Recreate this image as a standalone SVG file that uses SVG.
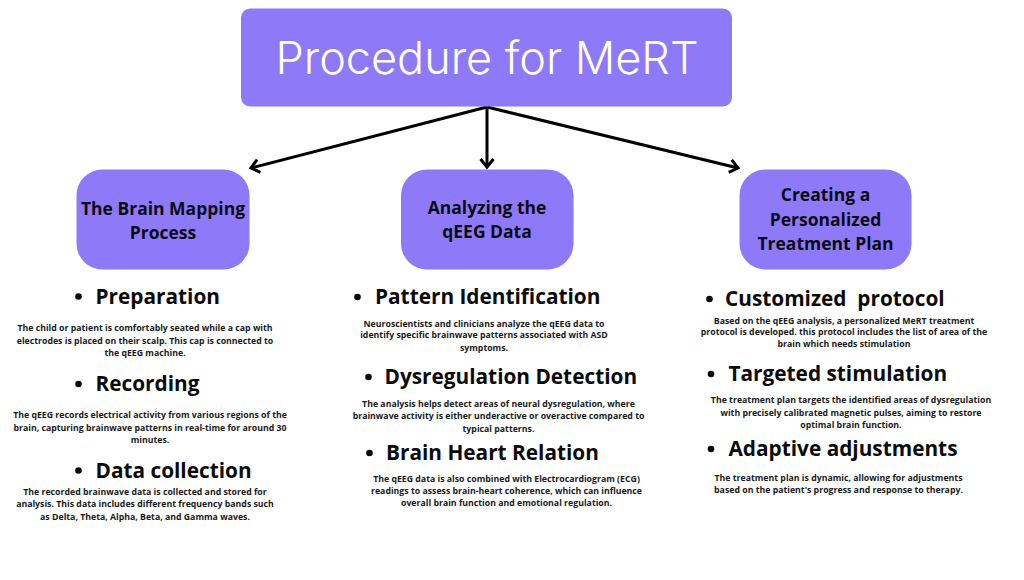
<svg xmlns="http://www.w3.org/2000/svg" width="1024" height="580" viewBox="0 0 1024 580">
<style>
.box{fill:#8e79f8;}
.title{font-family:Inter,"Open Sans",sans-serif;font-weight:300;font-size:45px;fill:#ffffff;text-anchor:middle;}
.nl{font-family:"Open Sans","Liberation Sans",sans-serif;font-weight:700;font-size:17.5px;fill:#0a0a14;text-anchor:middle;}
.hd{font-family:"Open Sans","Liberation Sans",sans-serif;font-weight:700;font-size:20.8px;fill:#0a0a0a;}
.bd{font-family:"Open Sans","Liberation Sans",sans-serif;font-weight:700;font-size:8.75px;fill:#1a1a1a;text-anchor:middle;}
.bl{fill:#0a0a0a;}
.conn{stroke:#000;stroke-width:3;fill:none;}
</style>
<defs>
<marker id="chev" markerUnits="userSpaceOnUse" markerWidth="20" markerHeight="20" refX="0" refY="0" viewBox="-12 -10 14 20" orient="auto">
<path d="M-8,-6.5 L0,0 L-8,6.5" stroke="#000" stroke-width="3" fill="none" stroke-linejoin="miter"/>
</marker>
</defs>
<rect width="1024" height="580" fill="#ffffff"/>

<g id="connectors">
<line class="conn" x1="487" y1="107" x2="251" y2="168" marker-end="url(#chev)"/>
<line class="conn" x1="487" y1="107" x2="487" y2="167" marker-end="url(#chev)"/>
<line class="conn" x1="487" y1="107" x2="738" y2="168" marker-end="url(#chev)"/>
</g>

<g id="title">
<rect class="box" x="241" y="8.5" width="491" height="98" rx="9"/>
<text class="title" x="487" y="73.5">Procedure for MeRT</text>
</g>

<g id="node-brain-mapping">
<rect class="box" x="76.5" y="169.5" width="173" height="100" rx="26"/>
<text class="nl" x="163" y="215">The Brain Mapping</text>
<text class="nl" x="163" y="239">Process</text>
</g>

<g id="node-analyzing">
<rect class="box" x="401" y="169.5" width="172.5" height="100" rx="26"/>
<text class="nl" x="487" y="214">Analyzing the</text>
<text class="nl" x="487" y="238">qEEG Data</text>
</g>

<g id="node-treatment-plan">
<rect class="box" x="739.5" y="169.5" width="172" height="100" rx="26"/>
<text class="nl" x="825.5" y="201">Creating a</text>
<text class="nl" x="825.5" y="225.5">Personalized</text>
<text class="nl" x="825.5" y="250">Treatment Plan</text>
</g>

<g id="col-left">
<circle class="bl" cx="78.5" cy="296.5" r="3.3"/>
<text class="hd" x="95.5" y="303.5">Preparation</text>
<text class="bd" x="145" y="330.5">The child or patient is comfortably seated while a cap with</text>
<text class="bd" x="145" y="343.5">electrodes is placed on their scalp. This cap is connected to</text>
<text class="bd" x="145" y="355.5">the qEEG machine.</text>

<circle class="bl" cx="78.5" cy="384" r="3.3"/>
<text class="hd" x="95.5" y="391">Recording</text>
<text class="bd" x="150" y="418">The qEEG records electrical activity from various regions of the</text>
<text class="bd" x="150" y="430.5">brain, capturing brainwave patterns in real-time for around 30</text>
<text class="bd" x="150" y="443">minutes.</text>

<circle class="bl" cx="78.5" cy="470.5" r="3.3"/>
<text class="hd" x="95.5" y="477.5">Data collection</text>
<text class="bd" x="145" y="494.5">The recorded brainwave data is collected and stored for</text>
<text class="bd" x="145" y="507">analysis. This data includes different frequency bands such</text>
<text class="bd" x="145" y="520">as Delta, Theta, Alpha, Beta, and Gamma waves.</text>
</g>

<g id="col-middle">
<circle class="bl" cx="357.5" cy="297" r="3.3"/>
<text class="hd" x="375" y="304">Pattern Identification</text>
<text class="bd" x="484" y="326.5">Neuroscientists and clinicians analyze the qEEG data to</text>
<text class="bd" x="484" y="338">identify specific brainwave patterns associated with ASD</text>
<text class="bd" x="484" y="350.5">symptoms.</text>

<circle class="bl" cx="368.5" cy="377" r="3.3"/>
<text class="hd" x="384.5" y="384">Dysregulation Detection</text>
<text class="bd" x="498.5" y="407">The analysis helps detect areas of neural dysregulation, where</text>
<text class="bd" x="498.5" y="419">brainwave activity is either underactive or overactive compared to</text>
<text class="bd" x="498.5" y="431.5">typical patterns.</text>

<circle class="bl" cx="369.5" cy="453" r="3.3"/>
<text class="hd" x="386" y="460">Brain Heart Relation</text>
<text class="bd" x="506.5" y="482">The qEEG data is also combined with Electrocardiogram (ECG)</text>
<text class="bd" x="506.5" y="494">readings to assess brain-heart coherence, which can influence</text>
<text class="bd" x="506.5" y="506">overall brain function and emotional regulation.</text>
</g>

<g id="col-right">
<circle class="bl" cx="709.5" cy="299" r="3.3"/>
<text class="hd" x="725" y="306" xml:space="preserve">Customized  protocol</text>
<text class="bd" x="844" y="323.5">Based on the qEEG analysis, a personalized MeRT treatment</text>
<text class="bd" x="844" y="335">protocol is developed. this protocol includes the list of area of the</text>
<text class="bd" x="844" y="347">brain which needs stimulation</text>

<circle class="bl" cx="711" cy="374" r="3.3"/>
<text class="hd" x="728.5" y="381">Targeted stimulation</text>
<text class="bd" x="851" y="403">The treatment plan targets the identified areas of dysregulation</text>
<text class="bd" x="851" y="415.5">with precisely calibrated magnetic pulses, aiming to restore</text>
<text class="bd" x="851" y="428">optimal brain function.</text>

<circle class="bl" cx="711" cy="449" r="3.3"/>
<text class="hd" x="728.5" y="456">Adaptive adjustments</text>
<text class="bd" x="838.5" y="480.5">The treatment plan is dynamic, allowing for adjustments</text>
<text class="bd" x="838.5" y="493">based on the patient's progress and response to therapy.</text>
</g>
</svg>
